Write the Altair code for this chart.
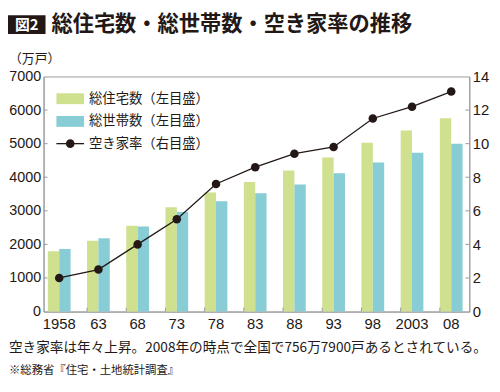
import altair as alt
import pandas as pd

# ---- data ----
years = ["1958", "63", "68", "73", "78", "83", "88", "93", "98", "2003", "08"]
housing = [1793, 2109, 2559, 3106, 3545, 3861, 4201, 4588, 5025, 5389, 5759]      # 総住宅数 (万戸)
households = [1865, 2182, 2532, 2965, 3284, 3520, 3781, 4116, 4436, 4726, 4997]   # 総世帯数 (万戸)
vacancy = [2.0, 2.5, 4.0, 5.5, 7.6, 8.6, 9.4, 9.8, 11.5, 12.2, 13.1]              # 空き家率 (%)
series_names = ["総住宅数", "総世帯数"]
series_colors = ["#cfe08f", "#88cdd5"]
legend_labels = ["総住宅数（左目盛）", "総世帯数（左目盛）", "空き家率（右目盛）"]
left_ticks = [0, 1000, 2000, 3000, 4000, 5000, 6000, 7000]
right_ticks = [0, 2, 4, 6, 8, 10, 12, 14]
fig_label = "図2"
title_text = "総住宅数・総世帯数・空き家率の推移"
unit_text = "（万戸）"
note_text = "空き家率は年々上昇。2008年の時点で全国で756万7900戸あるとされている。"
source_text = "※総務省『住宅・土地統計調査』"

INK = "#231815"
GRAY = "#9a9a9a"
NUM_FONT = "Liberation Sans"
JP_FONT = "Noto Sans CJK JP"
W, H = 431, 238

bars_df = pd.DataFrame({
    "year": years * 2,
    "series": [series_names[0]] * len(years) + [series_names[1]] * len(years),
    "value": housing + households,
})
line_df = pd.DataFrame({"year": years, "rate": vacancy})
lt_df = pd.DataFrame({"value": left_ticks[1:-1]})
rt_df = pd.DataFrame({"rate": right_ticks[1:-1]})
bt_df = pd.DataFrame({"year": years[1:]})
one = pd.DataFrame({"k": [0]})

XSCALE = dict(paddingInner=0.42, paddingOuter=0.14, align=0.39)


def xaxis():
    return alt.Axis(title=None, labelAngle=0, tickSize=0, domainColor=GRAY,
                    labelFont=NUM_FONT, labelFontSize=15, labelColor=INK,
                    labelPadding=5)


def X(**kw):
    return alt.X("year:N", sort=years, scale=alt.Scale(**XSCALE), axis=xaxis(), **kw)


def YL():
    return alt.Y(
        "value:Q", scale=alt.Scale(domain=[0, 7000], nice=False),
        axis=alt.Axis(title=None, orient="left", values=left_ticks, format="d",
                      tickSize=0, domainColor=GRAY, grid=False, labelFont=NUM_FONT,
                      labelFontSize=14.5, labelColor=INK, labelPadding=3),
    )


def YR():
    return alt.Y(
        "rate:Q", scale=alt.Scale(domain=[0, 14], nice=False),
        axis=alt.Axis(title=None, orient="right", values=right_ticks, format="d",
                      tickSize=0, domainColor=GRAY, grid=False, labelFont=NUM_FONT,
                      labelFontSize=15, labelColor=INK, labelPadding=3),
    )


bars = alt.Chart(bars_df).mark_bar().encode(
    x=X(),
    xOffset=alt.XOffset("series:N", sort=series_names),
    y=YL(),
    color=alt.Color("series:N", sort=series_names,
                    scale=alt.Scale(domain=series_names, range=series_colors),
                    legend=None),
)
left_ticks_rule = alt.Chart(lt_df).mark_rule(color=GRAY).encode(
    y=YL(), x=alt.value(0), x2=alt.value(4))
left_layer = alt.layer(bars, left_ticks_rule)

line = alt.Chart(line_df).mark_line(color=INK, strokeWidth=1.3).encode(x=X(), y=YR())
pts = alt.Chart(line_df).mark_circle(color=INK, size=75, opacity=1).encode(x=X(), y=YR())
right_ticks_rule = alt.Chart(rt_df).mark_rule(color=GRAY).encode(
    y=YR(), x=alt.value(W - 4), x2=alt.value(W))
bottom_ticks = alt.Chart(bt_df).mark_rule(color=GRAY).encode(
    x=alt.X("year:N", sort=years, bandPosition=0, scale=alt.Scale(**XSCALE), axis=xaxis()),
    y=alt.value(H), y2=alt.value(H - 4))
right_layer = alt.layer(line, pts, right_ticks_rule, bottom_ticks)


def txt(s, x, y, size, color=INK, weight="normal", align="left", font=JP_FONT):
    return alt.Chart(one).mark_text(
        align=align, baseline="middle", fontSize=size, fontWeight=weight,
        color=color, font=font,
    ).encode(x=alt.value(x), y=alt.value(y), text=alt.value(s))


def rect(x, x2, y, y2, color):
    return alt.Chart(one).mark_rect(color=color).encode(
        x=alt.value(x), x2=alt.value(x2), y=alt.value(y), y2=alt.value(y2))


decor = [
    rect(-36, 2, -62, -43, INK),
    txt(fig_label, -17, -52.5, 15, color="white", weight="bold", align="center"),
    txt(title_text, 8, -52, 21.5, weight="bold"),
    txt(unit_text, -35, -18, 13),
    # legend
    rect(13, 41, 17, 28, series_colors[0]),
    rect(13, 41, 40, 51, series_colors[1]),
    alt.Chart(one).mark_rule(color=INK, strokeWidth=1.3).encode(
        x=alt.value(13), x2=alt.value(41), y=alt.value(68)),
    alt.Chart(one).mark_circle(color=INK, size=75, opacity=1).encode(
        x=alt.value(27), y=alt.value(68)),
    txt(legend_labels[0], 46, 22.5, 13.5),
    txt(legend_labels[1], 46, 45.5, 13.5),
    txt(legend_labels[2], 46, 68, 13.5),
    # notes
    txt(note_text, -35, 275, 13.8),
    txt(source_text, -35, 298, 11.5),
]

chart = alt.layer(left_layer, right_layer, *decor).resolve_scale(
    y="independent"
).properties(
    width=W, height=H, autosize="none",
    padding={"left": 36, "top": 67, "right": 23, "bottom": 71},
).configure_view(stroke=GRAY, strokeWidth=1)

chart.save("out.html", embed_options={"renderer": "svg", "actions": False})
